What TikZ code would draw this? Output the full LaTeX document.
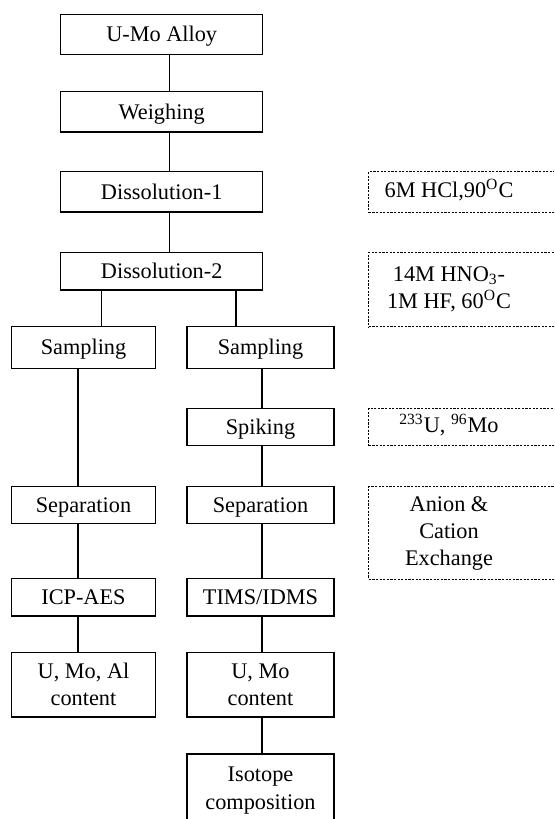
\documentclass[tikz,border=0pt]{standalone}
\usepackage{fontspec}
\setmainfont{Liberation Serif}
\newcommand{\notetext}[1]{\makebox[80.3pt]{\begin{tabular}{@{}c@{}}#1\end{tabular}}\hspace*{55.35pt}}

\begin{document}
\begin{tikzpicture}[x=0.5pt,y=-0.5pt,
    stage/.style={draw,line width=0.6pt,inner sep=0pt,align=center,
        text height=9pt,text depth=1.8pt,
        font=\fontsize{11.15}{13.65}\selectfont},
    twoline/.style={text height=21pt,text depth=0pt},
    mainbox/.style={stage,minimum width=101pt},
    leftbox/.style={stage,minimum width=71.8pt},
    rightbox/.style={stage,minimum width=73.5pt},
    note/.style={draw,line width=0.45pt,dash pattern=on 1.1pt off 0.7pt,inner sep=0pt,
        minimum width=135.65pt,font=\fontsize{11.15}{13.65}\selectfont},
    link/.style={line width=0.6pt}]
        \useasboundingbox (0,0) rectangle (554,819);
        \clip (0,0) rectangle (554,819);
        % trunk and branch lines
        \coordinate (spine) at (169.3,0);
        \coordinate (legL) at (101.7,0);
        \coordinate (legR) at (236,0);
        \coordinate (colL) at (78,0);
        \coordinate (colR) at (262,0);
        % main column
        \node[mainbox,minimum height=20.2pt] (alloy) at (161.7,34.5) {U-Mo Alloy};
        \node[mainbox,minimum height=20.15pt] (weigh) at (161.7,111.85) {Weighing};
        \node[mainbox,minimum height=20.15pt] (diss1) at (161.7,191.85) {Dissolution-1};
        \node[mainbox,minimum height=18.85pt] (diss2) at (161.7,271.15) {Dissolution-2};
        % left column
        \node[leftbox,minimum height=20.8pt] (samp1) at (83.5,347.5) {Sampling};
        \node[leftbox,minimum height=18.3pt] (sep1) at (83.5,505) {Separation};
        \node[leftbox,minimum height=18.85pt] (icp) at (83.5,597.15) {ICP-AES};
        \node[leftbox,twoline,minimum height=32.35pt] (cont1) at (83.5,684.65) {U, Mo, Al\\content};
        % right column
        \node[rightbox,minimum height=20.8pt] (samp2) at (260.5,347.5) {Sampling};
        \node[rightbox,minimum height=18.7pt] (spike) at (260.5,427) {Spiking};
        \node[rightbox,minimum height=18.3pt] (sep2) at (260.5,505) {Separation};
        \node[rightbox,minimum height=18.85pt] (tims) at (260.5,597.15) {TIMS/IDMS};
        \node[rightbox,twoline,minimum height=32.35pt] (cont2) at (260.5,684.65) {U, Mo\\content};
        \node[rightbox,twoline,minimum height=34pt] (iso) at (260.5,788) {Isotope\\composition};
        % reagent notes
        \node[note,minimum height=20.15pt] (hcl) at (504.35,191.85)
            {\notetext{6M HCl,90\textsuperscript{O}C}};
        \node[note,minimum height=37.2pt] (acid) at (504.35,289.5)
            {\notetext{14M HNO\textsubscript{3}-\\1M HF, 60\textsuperscript{O}C}};
        \node[note,minimum height=18.7pt] (spk) at (504.35,427)
            {\notetext{\textsuperscript{233}U, \textsuperscript{96}Mo}};
        \node[note,minimum height=46.15pt] (exch) at (504.35,532.85)
            {\notetext{Anion \&\\Cation\\Exchange}};
        % connectors
        \draw[link] (alloy.south -| spine) -- (weigh.north -| spine);
        \draw[link] (weigh.south -| spine) -- (diss1.north -| spine);
        \draw[link] (diss1.south -| spine) -- (diss2.north -| spine);
        \draw[link] (diss2.south -| legL) -- (samp1.north -| legL);
        \draw[link] (diss2.south -| legR) -- (samp2.north -| legR);
        \draw[link] (samp1.south -| colL) -- (sep1.north -| colL);
        \draw[link] (sep1.south -| colL) -- (icp.north -| colL);
        \draw[link] (icp.south -| colL) -- (cont1.north -| colL);
        \draw[link] (samp2.south -| colR) -- (spike.north -| colR);
        \draw[link] (spike.south -| colR) -- (sep2.north -| colR);
        \draw[link] (sep2.south -| colR) -- (tims.north -| colR);
        \draw[link] (tims.south -| colR) -- (cont2.north -| colR);
        \draw[link] (cont2.south -| colR) -- (iso.north -| colR);
\end{tikzpicture}
\end{document}
